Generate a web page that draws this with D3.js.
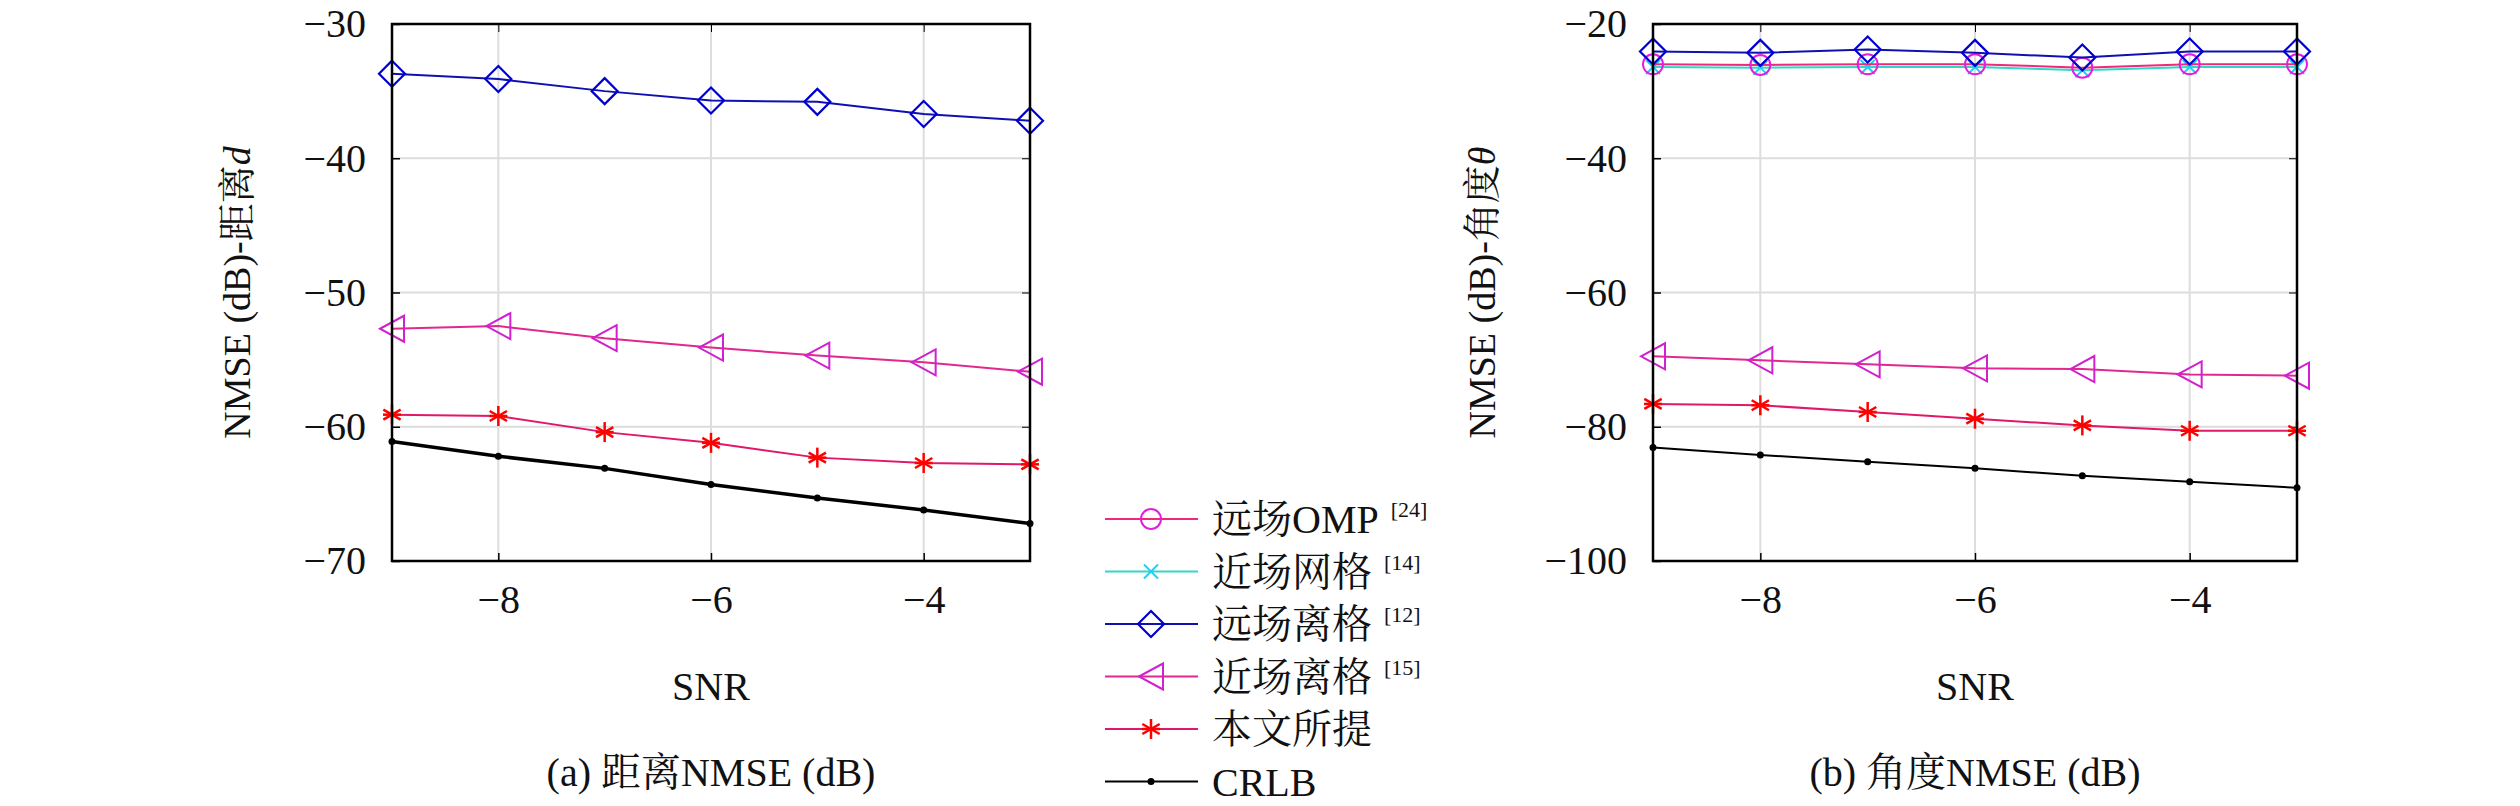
<!DOCTYPE html>
<html><head><meta charset="utf-8">
<script src="https://cdn.jsdelivr.net/npm/d3@7"></script>
<style>body{margin:0;background:#fff}svg{display:block}text{font-family:"Liberation Serif","Noto Serif CJK SC","Noto Sans CJK SC",serif;fill:#111}</style>
</head><body><svg id="c" width="2520" height="806"></svg>
<script>
const snr = [-9,-8,-7,-6,-5,-4,-3];
const xTicks = [-8,-6,-4];
const distTicks = [-30,-40,-50,-60,-70];
const angTicks = [-20,-40,-60,-80,-100];
const legendNames = ["远场OMP","近场网格","远场离格","近场离格","本文所提","CRLB"];
const legendRefs = ["[24]","[14]","[12]","[15]","",""];
// distance NMSE
const dFarOff = [-33.7,-34.1,-35.0,-35.7,-35.8,-36.7,-37.2];
const dNearOff = [-52.7,-52.5,-53.4,-54.1,-54.7,-55.2,-55.9];
const dProp = [-59.1,-59.2,-60.4,-61.2,-62.3,-62.7,-62.8];
const dCRLB = [-61.1,-62.2,-63.1,-64.3,-65.3,-66.2,-67.2];
// angle NMSE
const aFarOMP = [-26.0,-26.1,-26.0,-26.0,-26.5,-26.0,-26.0];
const aNearGrid = [-26.4,-26.5,-26.4,-26.4,-26.9,-26.4,-26.4];
const aFarOff = [-24.1,-24.3,-23.8,-24.3,-25.0,-24.1,-24.1];
const aNearOff = [-69.5,-70.1,-70.7,-71.3,-71.4,-72.2,-72.4];
const aProp = [-76.6,-76.8,-77.8,-78.8,-79.8,-80.6,-80.6];
const aCRLB = [-83.1,-84.2,-85.2,-86.2,-87.3,-88.2,-89.1];

const styles = {
  omp:{line:"#f0287a",mark:"circle",mc:"#e020e0"},
  grid:{line:"#30d8c8",mark:"x",mc:"#20d0f0"},
  faroff:{line:"#1010b0",mark:"diamond",mc:"#0000d0"},
  nearoff:{line:"#e02890",mark:"tri",mc:"#d020d0"},
  prop:{line:"#e0186a",mark:"star",mc:"#ff0000"},
  crlb:{line:"#000",mark:"dot",mc:"#000"}
};
const svg = d3.select("#c");
const FS = "40px";

function marker(g,type,x,y,c){
  if(type==="circle") g.append("circle").attr("cx",x).attr("cy",y).attr("r",10).attr("fill","none").attr("stroke",c).attr("stroke-width",2);
  else if(type==="diamond") g.append("path").attr("d",`M${x},${y-13}L${x+13},${y}L${x},${y+13}L${x-13},${y}Z`).attr("fill","none").attr("stroke",c).attr("stroke-width",2.2);
  else if(type==="tri") g.append("path").attr("d",`M${x-12},${y}L${x+12},${y-13}L${x+12},${y+13}Z`).attr("fill","none").attr("stroke",c).attr("stroke-width",2);
  else if(type==="star"){const p=g.append("g").attr("stroke",c).attr("stroke-width",2.5);
    [0,60,120].forEach(a=>{const r=a*Math.PI/180;p.append("line").attr("x1",x-10*Math.sin(r)).attr("y1",y-10*Math.cos(r)).attr("x2",x+10*Math.sin(r)).attr("y2",y+10*Math.cos(r));});
    p.append("line").attr("x1",x-9).attr("x2",x+9).attr("y1",y).attr("y2",y);}
  else if(type==="x"){const p=g.append("g").attr("stroke",c).attr("stroke-width",2);
    p.append("line").attr("x1",x-7).attr("y1",y-7).attr("x2",x+7).attr("y2",y+7);
    p.append("line").attr("x1",x-7).attr("y1",y+7).attr("x2",x+7).attr("y2",y-7);}
  else g.append("circle").attr("cx",x).attr("cy",y).attr("r",3.5).attr("fill",c);
}

function panel(x0,x1,domain,ticks,series,ylab,ylabX,caption,crlbW){
  const top=24,bot=561;
  const x=d3.scaleLinear().domain([-9,-3]).range([x0,x1]);
  const y=d3.scaleLinear().domain(domain).range([bot,top]);
  const g=svg.append("g");
  g.append("g").selectAll("line").data(xTicks).join("line").attr("x1",d=>x(d)).attr("x2",d=>x(d)).attr("y1",top).attr("y2",bot).attr("stroke","#ddd").attr("stroke-width",2);
  g.append("g").selectAll("line").data(ticks).join("line").attr("y1",d=>y(d)).attr("y2",d=>y(d)).attr("x1",x0).attr("x2",x1).attr("stroke","#ddd").attr("stroke-width",2);
  const ax=g.append("g").attr("transform",`translate(0,${bot})`).call(d3.axisBottom(x).tickValues(xTicks).tickSize(-8).tickPadding(24).tickFormat(d=>"−"+Math.abs(d)));
  const ay=g.append("g").attr("transform",`translate(${x0},0)`).call(d3.axisLeft(y).tickValues(ticks).tickSize(-8).tickPadding(26).tickFormat(d=>"−"+Math.abs(d)));
  [ax,ay].forEach(a=>{a.select(".domain").remove();a.selectAll("line").attr("stroke","#000").attr("stroke-width",1.5);a.selectAll("text").style("font-size",FS).style("font-family","Liberation Serif, serif").attr("fill","#111");});
  g.append("g").attr("transform",`translate(${x1},0)`).call(d3.axisRight(y).tickValues(ticks).tickSize(-8).tickFormat("")).call(a=>{a.select(".domain").remove();a.selectAll("line").attr("stroke","#000");});
  g.append("g").attr("transform",`translate(0,${top})`).call(d3.axisTop(x).tickValues(xTicks).tickSize(-8).tickFormat("")).call(a=>{a.select(".domain").remove();a.selectAll("line").attr("stroke","#000");});
  const line=d3.line().x((d,i)=>x(snr[i])).y(d=>y(d));
  series.forEach(s=>{
    const st=styles[s.k];
    g.append("path").datum(s.v).attr("d",line).attr("fill","none").attr("stroke",st.line).attr("stroke-width",s.k==="crlb"?crlbW:2);
    s.v.forEach((v,i)=>marker(g,st.mark,x(snr[i]),y(v),st.mc));
  });
  g.append("rect").attr("x",x0).attr("y",top).attr("width",x1-x0).attr("height",bot-top).attr("fill","none").attr("stroke","#000").attr("stroke-width",2.5);
  const yl=g.append("text").attr("transform",`translate(${ylabX},${(top+bot)/2}) rotate(-90)`).attr("text-anchor","middle").style("font-size","38px");
  yl.append("tspan").text("NMSE (dB)-"+ylab[0]);
  yl.append("tspan").attr("font-style","italic").text(ylab[1]);
  g.append("text").attr("x",(x0+x1)/2).attr("y",700).attr("text-anchor","middle").style("font-size",FS).text("SNR");
  g.append("text").attr("x",(x0+x1)/2).attr("y",786).attr("text-anchor","middle").style("font-size",FS).text(caption);
}
panel(392,1030,[-70,-30],distTicks,[
  {k:"faroff",v:dFarOff},{k:"nearoff",v:dNearOff},{k:"crlb",v:dCRLB},{k:"prop",v:dProp}],
  ["距离","d"],250,"(a) 距离NMSE (dB)",3.5);
panel(1653,2297,[-100,-20],angTicks,[
  {k:"grid",v:aNearGrid},{k:"omp",v:aFarOMP},{k:"faroff",v:aFarOff},{k:"nearoff",v:aNearOff},{k:"crlb",v:aCRLB},{k:"prop",v:aProp}],
  ["角度","θ"],1495,"(b) 角度NMSE (dB)",2);

const keys=["omp","grid","faroff","nearoff","prop","crlb"];
const lg=svg.append("g");
keys.forEach((k,i)=>{
  const yy=519+i*52.5, st=styles[k];
  lg.append("line").attr("x1",1105).attr("x2",1198).attr("y1",yy).attr("y2",yy).attr("stroke",st.line).attr("stroke-width",2);
  marker(lg,st.mark,1151,yy,st.mc);
  const t=lg.append("text").attr("x",1212).attr("y",yy+14).style("font-size",FS).text(legendNames[i]);
  if(legendRefs[i]){const w=t.node().getComputedTextLength();
    lg.append("text").attr("x",1212+w+12).attr("y",yy-2).style("font-size","22px").text(legendRefs[i]);}
});
</script></body></html>
